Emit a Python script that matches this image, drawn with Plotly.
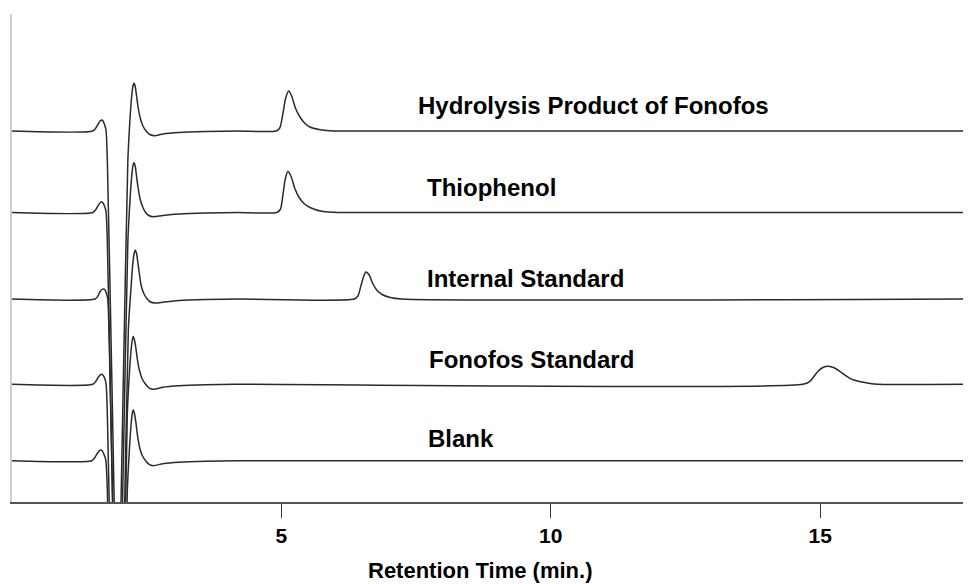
import plotly.graph_objects as go

# stacked chromatograms, signal (baseline = 0 for each trace)
names = ["Hydrolysis Product of Fonofos", "Thiophenol", "Internal Standard",
         "Fonofos Standard", "Blank"]
offsets = [371, 289.5, 203, 117.7, 41.3]

hydro_t = [0, 1.50, 1.55, 1.60, 1.64, 1.665, 1.69, 1.72, 1.745, 1.77, 1.85, 1.96, 2.07, 2.15,
           2.19, 2.22, 2.245, 2.264, 2.285, 2.31, 2.34, 2.38, 2.43, 2.49, 2.56, 2.65, 2.80,
           3.10, 3.60, 4.20, 4.90, 4.97, 5.03, 5.08, 5.135, 5.19, 5.26, 5.345, 5.43, 5.53,
           5.70, 5.90, 6.20, 17.8]
hydro_y = [0, 0, 2.5, 7, 10.3, 11, 10, 6, 1, -30, -240, -500, -240, -30,
           12, 34, 45, 48, 45, 36, 24, 13, 5, 0, -3.5, -4.7, -3,
           -1.5, -0.5, 0, 0, 3, 18, 33, 40, 35, 23, 14, 8, 4,
           1.5, 0.3, 0, 0]

thio_t = [0, 1.50, 1.55, 1.60, 1.64, 1.665, 1.69, 1.72, 1.745, 1.77, 1.85, 1.96, 2.07, 2.15,
          2.19, 2.22, 2.245, 2.264, 2.285, 2.31, 2.34, 2.38, 2.43, 2.48, 2.54, 2.62, 2.80,
          3.10, 3.60, 4.20, 4.91, 4.98, 5.03, 5.07, 5.12, 5.18, 5.25, 5.33, 5.42, 5.53,
          5.77, 6.10, 17.8]
thio_y = [0, 0, 2.5, 7, 10, 10.7, 9.5, 6, 1, -30, -240, -500, -240, -30,
          12, 35, 47, 50, 47, 37, 25, 13, 5, 0, -3, -4.3, -3,
          -1.5, -0.5, 0, 0, 3, 18, 33, 41, 36, 24, 15, 9, 5,
          1, 0, 0]

istd_t = [0, 1.54, 1.59, 1.63, 1.67, 1.695, 1.72, 1.75, 1.775, 1.80, 1.88, 1.98, 2.08, 2.16,
          2.21, 2.24, 2.265, 2.288, 2.31, 2.335, 2.365, 2.40, 2.45, 2.51, 2.57, 2.66, 2.82,
          3.10, 3.60, 4.20, 6.35, 6.42, 6.48, 6.53, 6.57, 6.63, 6.70, 6.77, 6.87, 7.02,
          7.23, 17.8]
istd_y = [0, 0, 2.5, 7, 9.5, 10, 9.5, 6, 1, -30, -240, -500, -240, -30,
          12, 34, 45, 49, 46, 37, 25, 13, 5, 0, -3, -4, -3,
          -1.5, -0.5, 0, 0, 3, 14, 23, 27, 24, 15, 9, 4.5, 1.5,
          0, 0]

fono_t = [0, 1.50, 1.55, 1.60, 1.64, 1.665, 1.69, 1.72, 1.745, 1.77, 1.85, 1.96, 2.07, 2.14,
          2.18, 2.21, 2.235, 2.25, 2.27, 2.30, 2.33, 2.37, 2.42, 2.48, 2.54, 2.63, 2.80,
          3.10, 3.60, 4.20, 14.68, 14.81, 14.96, 15.06, 15.15, 15.26, 15.37, 15.55, 15.73,
          15.90, 16.07, 17.8]
fono_y = [0, 0, 2.5, 7, 9.5, 10, 9, 6, 1, -30, -240, -500, -240, -30,
          12, 34, 45, 48, 45, 36, 24, 13, 5, 0, -3.5, -5, -3,
          -1.5, -0.5, 0, 0, 3, 13, 17, 18, 16.5, 12.7, 6, 2.7,
          1, 0, 0]

blank_t = [0, 1.48, 1.53, 1.58, 1.625, 1.65, 1.675, 1.71, 1.74, 1.77, 1.85, 1.96, 2.07, 2.14,
           2.18, 2.21, 2.235, 2.25, 2.27, 2.30, 2.33, 2.37, 2.42, 2.48, 2.54, 2.62, 2.80,
           3.10, 3.60, 4.20, 17.8]
blank_y = [0, 0, 2.5, 7, 10, 10.7, 10, 6, 1, -30, -240, -500, -240, -30,
           12, 36, 48, 51, 48, 38, 25, 13, 5, 0, -3.5, -5, -3,
           -1.5, -0.5, 0, 0]

traces = [(hydro_t, hydro_y), (thio_t, thio_y), (istd_t, istd_y),
          (fono_t, fono_y), (blank_t, blank_y)]

# label positions (retention time, height on the stacked scale)
label_x = [7.50, 7.67, 7.67, 7.71, 7.69]
label_y = [397, 315, 224, 143, 64]

fig = go.Figure()
for (t, y), off, name in zip(traces, offsets, names):
    fig.add_trace(go.Scatter(
        x=t, y=[v + off for v in y], mode='lines', name=name,
        line=dict(color='#2a2a2a', width=1.5, shape='spline', smoothing=0.7),
        hoverinfo='skip'))

for name, lx, ly in zip(names, label_x, label_y):
    fig.add_annotation(x=lx, y=ly, text='<b>' + name + '</b>', showarrow=False,
                       xanchor='left', yanchor='middle',
                       font=dict(family='Liberation Sans, Arial', size=24, color='black'))

# axis title placed as annotation (sits a bit left of plot centre)
fig.add_annotation(x=8.70, y=0, xref='x', yref='paper', yshift=-68,
                   text='<b>Retention Time (min.)</b>', showarrow=False,
                   xanchor='center', yanchor='middle',
                   font=dict(family='Liberation Sans, Arial', size=22, color='black'))

# the page body adds an 8px margin, so the figure is sized 8px smaller
fig.update_layout(
    width=963, height=576,
    margin=dict(l=4, r=0, t=6, b=82),
    paper_bgcolor='white', plot_bgcolor='white',
    showlegend=False,
    xaxis=dict(range=[0, 17.8], tickvals=[5, 10, 15], ticktext=['<b>5</b>', '<b>10</b>', '<b>15</b>'],
               ticks='outside', ticklen=14, tickwidth=1, tickcolor='#333',
               showline=True, linecolor='#555', linewidth=2, showgrid=False, zeroline=False,
               tickfont=dict(family='Liberation Sans, Arial', size=21, color='black')),
    yaxis=dict(range=[0, 488], showticklabels=False, ticks='', showgrid=False, zeroline=False,
               showline=True, linecolor='#cfcfcf', linewidth=2),
)

fig.write_html("out.html")
